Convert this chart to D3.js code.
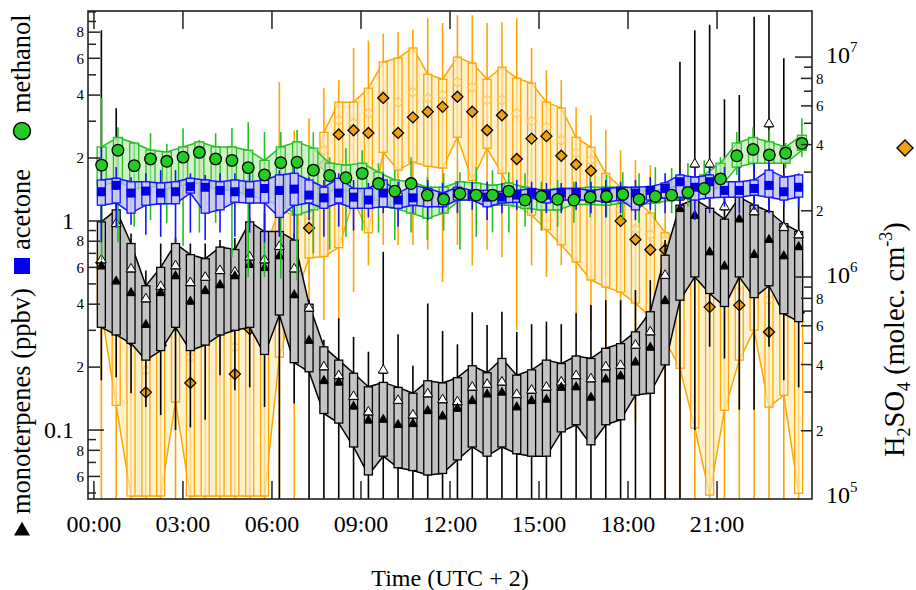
<!DOCTYPE html>
<html>
<head>
<meta charset="utf-8">
<title>Diel cycles: monoterpenes, acetone, methanol, H2SO4</title>
<script src="https://d3js.org/d3.v7.min.js"></script>
<style>
  body { margin: 0; background: #fff; }
  svg text { font-family: "Liberation Serif", "Times New Roman", serif; fill: #000; }
</style>
</head>
<body>
<div id="chart"></div>
<script>
// ---- data -------------------------------------------------------------
// half-hour bins, centre of each bin in hours of the day (UTC + 2)
const binHours = d3.range(48).map(i => 0.25 + 0.5 * i);
const timeTicks = [0, 3, 6, 9, 12, 15, 18, 21];
const timeLabels = ["00:00", "03:00", "06:00", "09:00", "12:00", "15:00", "18:00", "21:00"];

// monoterpenes (ppbv), 48 bins
const monoLo = [0.173, 0.179, 0.150, 0.129, 0.118, 0.100, 0.103, 0.112, 0.183, 0.155, 0.160, 0.129, 0.046, 0.134, 0.046, 0.046,
  0.046, 0.046, 0.046, 0.046, 0.046, 0.046, 0.046, 0.046, 0.046, 0.046, 0.046, 0.046, 0.046, 0.046, 0.046, 0.046,
  0.046, 0.046, 0.046, 0.046, 0.046, 0.046, 0.046, 0.046, 0.100, 0.25, 0.22, 0.125, 0.125, 0.25, 0.173, 0.16];
const monoQ1 = [0.31, 0.285, 0.26, 0.216, 0.24, 0.31, 0.24, 0.255, 0.285, 0.30, 0.31, 0.23, 0.355, 0.21, 0.19, 0.12,
  0.108, 0.083, 0.061, 0.075, 0.066, 0.064, 0.061, 0.062, 0.072, 0.083, 0.075, 0.083, 0.077, 0.075, 0.075, 0.098,
  0.106, 0.085, 0.106, 0.112, 0.147, 0.150, 0.205, 0.418, 0.54, 0.45, 0.39, 0.54, 0.43, 0.49, 0.36, 0.33];
const monoMed = [0.59, 0.50, 0.44, 0.31, 0.44, 0.53, 0.40, 0.45, 0.48, 0.53, 0.60, 0.58, 0.66, 0.43, 0.26, 0.167,
  0.164, 0.126, 0.108, 0.109, 0.103, 0.104, 0.120, 0.113, 0.123, 0.134, 0.144, 0.147, 0.125, 0.134, 0.136, 0.155,
  0.156, 0.139, 0.170, 0.176, 0.205, 0.241, 0.403, 1.11, 1.03, 0.69, 0.59, 0.99, 0.67, 0.79, 0.66, 0.73];
const monoMean = [0.63, 0.94, 0.57, 0.41, 0.47, 0.59, 0.49, 0.52, 0.56, 0.55, 0.65, 0.63, 0.73, 0.57, 0.37, 0.194,
  0.176, 0.140, 0.118, 0.187, 0.134, 0.114, 0.144, 0.135, 0.132, 0.155, 0.160, 0.164, 0.143, 0.150, 0.155, 0.164,
  0.176, 0.170, 0.194, 0.197, 0.246, 0.285, 0.531, 1.26, 1.81, 1.81, 1.13, 1.30, 1.07, 2.82, 0.90, 0.83];
const monoQ3 = [0.99, 1.13, 0.78, 0.49, 0.60, 0.78, 0.69, 0.66, 0.75, 0.73, 0.99, 0.89, 0.89, 0.81, 0.40, 0.25,
  0.216, 0.187, 0.161, 0.169, 0.160, 0.150, 0.172, 0.168, 0.178, 0.203, 0.188, 0.220, 0.183, 0.194, 0.216, 0.208,
  0.226, 0.220, 0.246, 0.259, 0.295, 0.368, 0.686, 1.19, 1.27, 1.15, 1.02, 1.30, 1.19, 1.11, 0.97, 0.89];
const monoHi = [8.17, 3.46, 0.87, 0.58, 0.78, 0.83, 0.78, 0.78, 0.81, 0.83, 1.04, 1.09, 1.07, 0.87, 0.42, 0.27,
  0.342, 0.279, 0.237, 0.712, 0.287, 0.203, 0.403, 0.298, 0.257, 0.366, 0.318, 0.368, 0.295, 0.321, 0.330, 0.321,
  0.362, 0.396, 0.418, 0.418, 0.467, 0.521, 0.81, 5.77, 8.17, 8.67, 3.82, 4.0, 9.47, 9.67, 6.01, 1.30];

// acetone (ppbv), 48 bins
const acetLo = [0.79, 0.93, 0.96, 0.86, 0.84, 0.79, 0.88, 0.81, 0.88, 0.84, 0.88, 0.79, 0.84, 0.81, 1.01, 0.84,
  0.94, 0.90, 1.04, 1.09, 0.94, 1.09, 1.01, 1.09, 1.09, 1.13, 1.01, 1.09, 1.13, 1.09, 1.09, 1.09,
  1.13, 1.09, 1.04, 1.09, 1.01, 1.13, 1.09, 1.17, 1.01, 1.09, 1.17, 1.09, 1.13, 1.09, 1.17, 1.17];
const acetQ1 = [1.19, 1.22, 1.09, 1.19, 1.21, 1.21, 1.36, 1.09, 1.13, 1.23, 1.22, 1.22, 1.04, 1.19, 1.22, 1.15,
  1.22, 1.15, 1.15, 1.17, 1.15, 1.19, 1.17, 1.17, 1.26, 1.26, 1.17, 1.22, 1.23, 1.29, 1.22, 1.26,
  1.26, 1.26, 1.23, 1.26, 1.13, 1.26, 1.29, 1.30, 1.26, 1.29, 1.30, 1.30, 1.33, 1.30, 1.26, 1.30];
const acetMed = [1.38, 1.48, 1.36, 1.39, 1.36, 1.38, 1.46, 1.45, 1.40, 1.38, 1.36, 1.43, 1.40, 1.42, 1.33, 1.29,
  1.36, 1.30, 1.26, 1.36, 1.26, 1.29, 1.33, 1.29, 1.36, 1.33, 1.30, 1.30, 1.33, 1.36, 1.33, 1.36,
  1.36, 1.33, 1.36, 1.38, 1.36, 1.40, 1.43, 1.54, 1.45, 1.54, 1.40, 1.40, 1.43, 1.48, 1.38, 1.45];
const acetQ3 = [1.57, 1.60, 1.54, 1.54, 1.52, 1.54, 1.60, 1.57, 1.54, 1.57, 1.54, 1.57, 1.66, 1.69, 1.57, 1.45,
  1.60, 1.43, 1.43, 1.57, 1.36, 1.48, 1.43, 1.36, 1.45, 1.40, 1.40, 1.38, 1.40, 1.43, 1.40, 1.43,
  1.43, 1.40, 1.43, 1.45, 1.45, 1.46, 1.52, 1.66, 1.62, 1.66, 1.54, 1.54, 1.57, 1.75, 1.62, 1.66];
const acetHi = [2.26, 1.81, 1.62, 1.69, 1.75, 1.75, 1.69, 1.66, 1.69, 1.69, 1.69, 1.75, 1.75, 1.81, 1.62, 1.57,
  1.69, 1.57, 1.52, 1.69, 1.54, 1.52, 1.57, 1.52, 1.54, 1.54, 1.54, 1.52, 1.57, 1.54, 1.52, 1.52,
  1.54, 1.54, 1.57, 1.54, 1.57, 1.62, 1.69, 1.75, 1.81, 1.81, 1.81, 1.81, 1.89, 1.95, 1.69, 1.69];

// methanol (ppbv), 44 bins spread over the day
const methLo = [0.65, 0.79, 0.94, 1.01, 0.98, 0.76, 0.88, 0.98, 0.67, 0.54, 0.54, 0.53, 0.52, 0.70, 0.73, 0.84,
  0.90, 0.88, 0.81, 0.88, 0.81, 0.90, 0.73, 0.84, 0.88, 0.88, 0.94, 0.90, 0.94, 0.98, 1.04, 1.04,
  1.01, 0.98, 1.01, 1.09, 1.17, 1.26, 1.33, 1.66, 1.85, 1.75, 1.79, 2.02];
const methQ1 = [1.48, 1.54, 1.43, 1.46, 1.43, 1.48, 1.52, 1.43, 1.40, 1.33, 1.26, 1.19, 1.07, 1.13, 1.40, 1.40,
  1.38, 1.26, 1.15, 1.09, 1.03, 1.09, 1.26, 1.26, 1.19, 1.19, 1.15, 1.13, 1.13, 1.20, 1.20, 1.19,
  1.22, 1.20, 1.22, 1.26, 1.30, 1.36, 1.45, 1.81, 1.89, 1.89, 1.89, 2.18];
const methMed = [1.85, 2.18, 1.84, 1.98, 1.93, 2.02, 2.13, 1.98, 1.95, 1.80, 1.66, 1.90, 1.91, 1.75, 1.65, 1.61,
  1.69, 1.51, 1.39, 1.51, 1.33, 1.27, 1.35, 1.33, 1.33, 1.39, 1.26, 1.31, 1.27, 1.26, 1.30, 1.31,
  1.34, 1.27, 1.31, 1.33, 1.37, 1.43, 1.59, 2.05, 2.20, 2.07, 2.11, 2.35];
const methQ3 = [2.26, 2.51, 2.36, 2.18, 2.14, 2.26, 2.39, 2.26, 2.26, 2.18, 1.95, 2.26, 2.39, 2.23, 1.89, 1.85,
  1.89, 1.71, 1.57, 1.54, 1.45, 1.45, 1.54, 1.52, 1.48, 1.52, 1.45, 1.40, 1.43, 1.43, 1.45, 1.45,
  1.45, 1.40, 1.40, 1.45, 1.54, 1.66, 1.89, 2.36, 2.51, 2.39, 2.26, 2.57];
const methHi = [3.87, 2.81, 2.39, 2.63, 2.34, 2.78, 2.44, 2.63, 2.78, 2.97, 2.66, 2.66, 2.72, 2.66, 2.02, 2.23,
  2.18, 1.89, 1.75, 2.02, 1.62, 1.69, 1.71, 1.81, 1.75, 1.71, 1.69, 1.54, 1.57, 1.54, 1.62, 1.66,
  1.71, 1.69, 1.81, 1.79, 1.89, 1.95, 2.02, 2.66, 2.81, 2.72, 2.36, 3.10];

// H2SO4 (molec. cm-3), 48 bins
const h2Lo = [9e4, 9e4, 9e4, 9e4, 9e4, 9e4, 9e4, 9e4, 9e4, 9e4, 9e4, 9e4, 9e4, 9e4, 5.74e5, 6.37e5,
  6.37e5, 8.54e5, 1.13e6, 1.40e6, 1.40e6, 1.40e6, 1.33e6, 9.49e5, 1.40e6, 1.13e6, 1.33e6, 1.23e6, 5.74e5, 1.13e6, 1.0e6, 1.13e6,
  6.85e5, 5.74e5, 4.19e5, 2.75e5, 2.24e5, 1.81e5, 9e4, 9e4, 9e4, 9e4, 9e4, 9e4, 9e4, 9e4, 9e4, 9e4];
const h2Q1 = [7.07e5, 2.61e5, 1.01e5, 1.01e5, 1.01e5, 2.70e5, 1.01e5, 1.01e5, 1.01e5, 1.01e5, 1.01e5, 1.01e5, 4.32e5, 7.85e5, 1.22e6, 1.24e6,
  1.36e6, 2.24e6, 1.59e6, 3.69e6, 3.06e6, 3.33e6, 3.19e6, 3.13e6, 4.32e6, 2.75e6, 3.85e6, 2.96e6, 2.12e6, 1.91e6, 1.64e6, 1.40e6,
  1.17e6, 9.69e5, 9.0e5, 8.54e5, 7.61e5, 6.57e5, 5.16e5, 3.85e5, 2.06e5, 1.02e5, 2.48e5, 4.19e5, 5.74e5, 2.56e5, 2.90e5, 1.04e5];
const h2Med = [1.16e6, 6.37e5, 5.16e5, 2.99e5, 4.9e5, 6.04e5, 3.30e5, 5.16e5, 5.74e5, 3.62e5, 5.80e5, 6.37e5, 9.69e5, 9.69e5, 1.67e6, 3.23e6,
  4.45e6, 4.65e6, 4.52e6, 6.52e6, 4.52e6, 5.32e6, 5.64e6, 5.94e6, 6.60e6, 5.64e6, 4.65e6, 5.44e6, 3.44e6, 4.26e6, 4.37e6, 3.56e6,
  3.25e6, 3.04e6, 2.24e6, 1.80e6, 1.48e6, 1.33e6, 1.33e6, 8.72e5, 1.08e6, 7.30e5, 8.72e5, 7.45e5, 9.19e5, 5.62e5, 7.85e5, 6.91e5];
const h2Mean = [1.10e6, 7.07e5, 5.74e5, 3.77e5, 5.74e5, 6.71e5, 4.32e5, 5.74e5, 6.37e5, 4.80e5, 6.71e5, 7.85e5, 1.19e6, 1.33e6, 1.91e6, 3.77e6,
  5.16e6, 5.01e6, 5.56e6, 6.71e6, 6.24e6, 6.92e6, 6.50e6, 6.71e6, 7.69e6, 7.30e6, 6.37e6, 6.37e6, 5.56e6, 5.11e6, 4.80e6, 4.19e6,
  3.66e6, 3.40e6, 2.48e6, 2.02e6, 1.65e6, 1.56e6, 1.47e6, 1.08e6, 1.19e6, 9.19e5, 1.02e6, 9.19e5, 1.08e6, 7.85e5, 9.19e5, 9.69e5];
const h2Q3 = [1.33e6, 8.72e5, 7.85e5, 6.37e5, 7.07e5, 7.85e5, 7.07e5, 7.45e5, 7.85e5, 7.85e5, 8.72e5, 1.33e6, 2.02e6, 1.91e6, 2.29e6, 4.55e6,
  6.24e6, 6.24e6, 7.22e6, 9.49e6, 9.90e6, 1.10e7, 8.36e6, 7.93e6, 1.0e7, 9.39e6, 7.93e6, 9.0e6, 8.02e6, 7.61e6, 6.24e6, 5.86e6,
  4.32e6, 3.89e6, 2.96e6, 2.56e6, 2.24e6, 1.95e6, 1.59e6, 1.47e6, 1.33e6, 1.47e6, 1.33e6, 1.33e6, 1.33e6, 1.40e6, 1.19e6, 1.19e6];
const h2Hi = [1.64e6, 1.08e6, 9.69e5, 8.72e5, 9.69e5, 1.08e6, 9.69e5, 1.02e6, 1.08e6, 1.08e6, 1.19e6, 1.64e6, 7.69e6, 4.65e6, 5.27e6, 7.22e6,
  7.85e6, 1.10e7, 1.19e7, 1.28e7, 1.30e7, 1.33e7, 1.50e7, 1.43e7, 1.55e7, 1.55e7, 1.43e7, 1.44e7, 1.50e7, 1.10e7, 8.72e6, 7.85e6,
  5.92e6, 5.44e6, 4.65e6, 3.77e6, 3.40e6, 3.23e6, 2.24e6, 2.24e6, 2.02e6, 2.24e6, 1.81e6, 2.02e6, 1.81e6, 2.02e6, 1.81e6, 1.81e6];

// axis ticks
const leftTicks = [0.05, 0.06, 0.07, 0.08, 0.09, 0.1, 0.2, 0.3, 0.4, 0.5, 0.6, 0.7, 0.8, 0.9,
  1, 2, 3, 4, 5, 6, 7, 8, 9, 10];
const leftSmallLabels = {0.06: "6", 0.08: "8", 0.2: "2", 0.4: "4", 0.6: "6", 0.8: "8", 2: "2", 4: "4", 6: "6", 8: "8"};
const leftBigLabels = {0.1: "0.1", 1: "1"};
const rightTicks = [1e5, 2e5, 3e5, 4e5, 5e5, 6e5, 7e5, 8e5, 9e5, 1e6, 2e6, 3e6, 4e6, 5e6, 6e6, 7e6, 8e6, 9e6, 1e7];
const rightSmallLabels = {2e5: "2", 4e5: "4", 6e5: "6", 8e5: "8", 2e6: "2", 4e6: "4", 6e6: "6", 8e6: "8"};
const rightDecades = {1e5: "5", 1e6: "6", 1e7: "7"};

// ---- layout -----------------------------------------------------------
const width = 916, height = 590;
const P = {l: 88, r: 812, t: 11, b: 499};

const svg = d3.select('#chart').append('svg')
  .attr('width', width).attr('height', height);
svg.append('rect').attr('width', width).attr('height', height).attr('fill', '#fff');

svg.append('defs').append('clipPath').attr('id', 'plotclip')
  .append('rect').attr('x', P.l).attr('y', P.t)
  .attr('width', P.r - P.l).attr('height', P.b - P.t);

const x = d3.scaleLinear().domain([-0.2, 24.2]).range([P.l, P.r]);
const yL = d3.scaleLog().domain([0.0468, 10.1]).range([P.b, P.t]);
const yR = d3.scaleLog().domain([0.979e5, 1.62e7]).range([P.b, P.t]);

const binX = binHours.map(h => x(h));
// methanol bins are spaced a little wider than the others
const methPos = d3.scalePoint().domain(d3.range(methMed.length)).range([x(0.26), x(23.86)]);
const methX = methMed.map((d, i) => methPos(i));

// draws band + whiskers + boxes for one species, returns the group
function drawBoxes(s, xs, y, st) {
  const g = svg.append('g').attr('clip-path', 'url(#plotclip)');
  const idx = d3.range(s.q1.length);
  const band = d3.area().x(i => xs[i]).y0(i => y(s.q1[i])).y1(i => y(s.q3[i]));
  g.append('path').attr('d', band(idx))
    .attr('fill', st.band).attr('fill-opacity', st.bandOpacity);
  const edge = arr => d3.line().x(i => xs[i]).y(i => y(arr[i]))(idx);
  [s.q3, s.q1].forEach(arr => {
    g.append('path').attr('d', edge(arr)).attr('fill', 'none')
      .attr('stroke', st.edge).attr('stroke-width', 1.5).attr('stroke-linejoin', 'round');
  });
  g.append('g').selectAll('line').data(idx).join('line')
    .attr('x1', i => xs[i]).attr('x2', i => xs[i])
    .attr('y1', i => y(s.lo[i])).attr('y2', i => y(s.hi[i]))
    .attr('stroke', st.whisker).attr('stroke-width', 1.6);
  g.append('g').selectAll('rect').data(idx).join('rect')
    .attr('x', i => xs[i] - st.w / 2).attr('width', st.w)
    .attr('y', i => y(s.q3[i])).attr('height', i => y(s.q1[i]) - y(s.q3[i]))
    .attr('fill', st.boxFill).attr('fill-opacity', st.boxOpacity)
    .attr('stroke', st.edge).attr('stroke-width', 1.3);
  if (st.medLine) {
    g.append('g').selectAll('line').data(idx).join('line')
      .attr('x1', i => xs[i] - st.w / 2).attr('x2', i => xs[i] + st.w / 2)
      .attr('y1', i => y(s.med[i])).attr('y2', i => y(s.med[i]))
      .attr('stroke', st.medLine).attr('stroke-width', 1.3);
  }
  if (st.meanLine) {
    g.append('g').selectAll('line').data(idx).join('line')
      .attr('x1', i => xs[i] - st.w / 2).attr('x2', i => xs[i] + st.w / 2)
      .attr('y1', i => y(s.mean[i])).attr('y2', i => y(s.mean[i]))
      .attr('stroke', st.meanLine).attr('stroke-width', 1.2);
  }
  return g;
}

const diamond = r => `M0,${-r}L${r},0L0,${r}L${-r},0Z`;
const triUp = d3.symbol(d3.symbolTriangle, 42)();

// H2SO4 (bottom layer)
const h2 = {lo: h2Lo, q1: h2Q1, med: h2Med, mean: h2Mean, q3: h2Q3, hi: h2Hi};
const gH = drawBoxes(h2, binX, yR, {
  band: '#fdefc6', bandOpacity: 0.85, edge: '#ffa500', whisker: '#ffa500',
  boxFill: '#fdf3d6', boxOpacity: 0.6, w: 8
});
gH.append('g').selectAll('path').data(h2Mean).join('path')
  .attr('d', diamond(5)).attr('transform', (d, i) => `translate(${binX[i]},${yR(d)})`)
  .attr('fill', 'none').attr('stroke', '#ffc860').attr('stroke-width', 1.2);
gH.append('g').selectAll('path').data(h2Med).join('path')
  .attr('d', diamond(5.5)).attr('transform', (d, i) => `translate(${binX[i]},${yR(d)})`)
  .attr('fill', '#f0a010').attr('stroke', '#000').attr('stroke-width', 1.3);

// monoterpenes
const mono = {lo: monoLo, q1: monoQ1, med: monoMed, mean: monoMean, q3: monoQ3, hi: monoHi};
const gM = drawBoxes(mono, binX, yL, {
  band: '#c0c0c0', bandOpacity: 1, edge: '#000', whisker: '#000',
  boxFill: '#c4c4c4', boxOpacity: 1, w: 8, medLine: '#000', meanLine: '#000'
});
gM.append('g').selectAll('path').data(monoMean).join('path')
  .attr('d', triUp).attr('transform', (d, i) => `translate(${binX[i]},${yL(d) - 3})`)
  .attr('fill', '#fff').attr('stroke', '#000').attr('stroke-width', 1);
gM.append('g').selectAll('path').data(monoMed).join('path')
  .attr('d', triUp).attr('transform', (d, i) => `translate(${binX[i]},${yL(d) - 3})`)
  .attr('fill', '#000');

// methanol
const meth = {lo: methLo, q1: methQ1, med: methMed, q3: methQ3, hi: methHi};
drawBoxes(meth, methX, yL, {
  band: '#c9efc0', bandOpacity: 0.85, edge: '#22c022', whisker: '#22c022',
  boxFill: '#c9efc0', boxOpacity: 0.6, w: 9
});

// acetone
const acet = {lo: acetLo, q1: acetQ1, med: acetMed, q3: acetQ3, hi: acetHi};
const gA = drawBoxes(acet, binX, yL, {
  band: '#bcbcec', bandOpacity: 0.75, edge: '#1414ff', whisker: '#1414ff',
  boxFill: '#cfcff4', boxOpacity: 0.9, w: 8, medLine: '#000066'
});
gA.append('g').selectAll('rect').data(acetMed).join('rect')
  .attr('x', (d, i) => binX[i] - 4.5).attr('y', d => yL(d) - 4.5)
  .attr('width', 9).attr('height', 9).attr('fill', '#0000e6');

// methanol markers on top
svg.append('g').attr('clip-path', 'url(#plotclip)')
  .selectAll('circle').data(methMed).join('circle')
  .attr('cx', (d, i) => methX[i]).attr('cy', d => yL(d)).attr('r', 5.8)
  .attr('fill', '#22cc22').attr('stroke', '#000').attr('stroke-width', 1.3);

// ---- axes -------------------------------------------------------------
svg.append('rect').attr('x', P.l).attr('y', P.t)
  .attr('width', P.r - P.l).attr('height', P.b - P.t)
  .attr('fill', 'none').attr('stroke', '#222').attr('stroke-width', 1.6);

const axG = svg.append('g').attr('stroke', '#222').attr('stroke-width', 1.5);

// time ticks, top and bottom, pointing inward
timeTicks.forEach(h => {
  axG.append('line').attr('x1', x(h)).attr('x2', x(h)).attr('y1', P.b).attr('y2', P.b - 18);
  axG.append('line').attr('x1', x(h)).attr('x2', x(h)).attr('y1', P.t).attr('y2', P.t + 18);
});
svg.append('g').selectAll('text').data(timeTicks).join('text')
  .attr('x', d => x(d)).attr('y', 532).attr('text-anchor', 'middle')
  .attr('font-size', 24).text((d, i) => timeLabels[i]);

// left log axis
leftTicks.forEach(v => {
  const big = v in leftBigLabels, lab = v in leftSmallLabels;
  const len = big ? 16 : lab ? 12 : 8;
  axG.append('line').attr('x1', P.l).attr('x2', P.l + len).attr('y1', yL(v)).attr('y2', yL(v));
  if (lab) {
    svg.append('text').attr('x', 84).attr('y', yL(v)).attr('dy', '0.35em')
      .attr('text-anchor', 'end').attr('font-size', 15).text(leftSmallLabels[v]);
  }
  if (big) {
    svg.append('text').attr('x', 74).attr('y', yL(v)).attr('dy', '0.35em')
      .attr('text-anchor', 'end').attr('font-size', 24).text(leftBigLabels[v]);
  }
});

// right log axis
rightTicks.forEach(v => {
  const dec = v in rightDecades, lab = v in rightSmallLabels;
  const len = dec ? 17 : lab ? 11 : 8;
  if (v > yR.domain()[0] * 1.05) {
    axG.append('line').attr('x1', P.r).attr('x2', P.r - len).attr('y1', yR(v)).attr('y2', yR(v));
  }
  if (lab) {
    svg.append('text').attr('x', 816).attr('y', yR(v)).attr('dy', '0.35em')
      .attr('font-size', 15).text(rightSmallLabels[v]);
  }
  if (dec) {
    const t = svg.append('text').attr('x', 826).attr('y', yR(v) + 6).attr('font-size', 24);
    t.append('tspan').text('10');
    t.append('tspan').attr('font-size', 15).attr('dy', -11).text(rightDecades[v]);
  }
});

// axis titles
svg.append('text').attr('x', 450).attr('y', 586).attr('text-anchor', 'middle')
  .attr('font-size', 24).text('Time (UTC + 2)');

const leftTitles = [
  {text: 'monoterpenes (ppbv)', y: 514},
  {text: 'acetone', y: 250},
  {text: 'methanol', y: 113}
];
leftTitles.forEach(d => {
  svg.append('text').attr('transform', `translate(30,${d.y}) rotate(-90)`)
    .attr('font-size', 26.5).text(d.text);
});
svg.append('path').attr('d', d3.symbol(d3.symbolTriangle, 110)())
  .attr('transform', 'translate(22,531)').attr('fill', '#000');
svg.append('rect').attr('x', 14).attr('y', 258).attr('width', 16).attr('height', 16).attr('fill', '#0000ee');
svg.append('circle').attr('cx', 22).attr('cy', 131).attr('r', 8.5)
  .attr('fill', '#22cc22').attr('stroke', '#000').attr('stroke-width', 1.4);

const rt = svg.append('text').attr('transform', 'translate(904,457) rotate(-90)').attr('font-size', 28.5);
rt.append('tspan').text('H');
rt.append('tspan').attr('font-size', 18).attr('dy', 6).text('2');
rt.append('tspan').attr('dy', -6).text('SO');
rt.append('tspan').attr('font-size', 18).attr('dy', 6).text('4');
rt.append('tspan').attr('dy', -6).text(' (molec. cm');
rt.append('tspan').attr('font-size', 18).attr('dy', -12).text('-3');
rt.append('tspan').attr('dy', 12).text(')');
svg.append('path').attr('d', diamond(8)).attr('transform', 'translate(905,148)')
  .attr('fill', '#f0a010').attr('stroke', '#000').attr('stroke-width', 1.4);
</script>
</body>
</html>
